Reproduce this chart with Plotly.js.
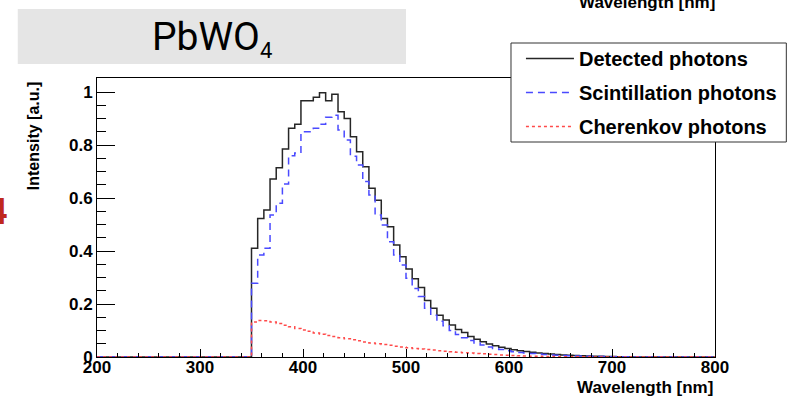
<!DOCTYPE html>
<html>
<head>
<meta charset="utf-8">
<script src="https://cdn.plot.ly/plotly-3.0.1.min.js"></script>
<style>html,body{margin:0;padding:0;background:#fff;}#chart{width:794px;height:397px;}</style>
</head>
<body>
<div id="chart"></div>
<script>
// Bin left edges (nm), 6 nm bins
const wavelength = [350,356,362,368,374,380,386,392,398,404,410,416,422,428,434,440,446,452,458,464,
  470,476,482,488,494,500,506,512,518,524,530,536,542,548,554,560,566,572,578,584,
  590,596,602,608,614,620,626,632,638,644,650,656,662,668,674,680,686,692,698,704,710];
const detected = [0.41,0.523,0.555,0.672,0.714,0.785,0.863,0.878,0.967,0.967,0.98,0.997,0.967,0.992,0.926,0.90,0.831,0.775,0.718,0.637,
  0.592,0.523,0.492,0.423,0.378,0.332,0.295,0.262,0.213,0.184,0.158,0.14,0.121,0.104,0.092,0.077,0.067,0.058,0.049,0.042,
  0.037,0.032,0.027,0.024,0.021,0.018,0.015,0.013,0.011,0.009,0.008,0.007,0.006,0.005,0.004,0.003,0.003,0.002,0.002,0.001,0.001];
const scintillation = [0.278,0.385,0.41,0.536,0.58,0.653,0.76,0.77,0.85,0.85,0.863,0.878,0.905,0.912,0.857,0.819,0.758,0.725,0.662,0.611,
  0.536,0.498,0.435,0.385,0.347,0.297,0.259,0.228,0.184,0.158,0.135,0.118,0.10,0.085,0.073,0.062,0.053,0.045,0.038,0.032,
  0.028,0.024,0.02,0.017,0.015,0.013,0.011,0.009,0.008,0.007,0.006,0.005,0.004,0.004,0.003,0.003,0.002,0.002,0.001,0.001,0.001];
const cherenkov = [0.132,0.138,0.137,0.132,0.126,0.12,0.114,0.108,0.102,0.097,0.091,0.086,0.081,0.077,0.073,0.069,0.065,0.061,0.057,0.053,
  0.05,0.047,0.044,0.041,0.038,0.035,0.032,0.03,0.028,0.026,0.024,0.022,0.02,0.018,0.016,0.015,0.013,0.012,0.01,0.009,
  0.008,0.007,0.006,0.005,0.004,0.003,0.003,0.002,0.002,0.001,0.001,0.001,0.001,0.001,0.001,0.0,0.0,0.0,0.0,0.0,0.0];
const seriesNames = ['Detected photons','Scintillation photons','Cherenkov photons'];
const xMin = 200, xMax = 800, binWidth = 6;
const xTickVals = [200,300,400,500,600,700,800];
const yTickVals = [0,0.2,0.4,0.6,0.8,1];

// Histogram step path: zero outside the filled range
function histXY(vals){
  const x = [xMin], y = [0];
  wavelength.forEach((w,i)=>{ x.push(w); y.push(vals[i]); });
  const lastEdge = wavelength[wavelength.length-1] + binWidth;
  x.push(lastEdge); y.push(0);
  x.push(xMax); y.push(0);
  return {x, y};
}

const styles = [
  {color:'#262626', width:1.5, dash:'solid'},
  {color:'#4a4aff', width:1.5, dash:'7px,5px'},
  {color:'#ff4a4a', width:1.5, dash:'3px,3px'}
];
const data = [detected, scintillation, cherenkov].map((vals,i)=>{
  const xy = histXY(vals);
  return {x:xy.x, y:xy.y, type:'scatter', mode:'lines', name:seriesNames[i],
    line:{shape:'hv', color:styles[i].color, width:styles[i].width, dash:styles[i].dash},
    legendgroup:'g'+i, cliponaxis:false};
});

const boldFam = '"Liberation Sans", Arial, sans-serif';
const bold = {family:boldFam, size:17, color:'#000', weight:'bold'};
const layout = {
  width:794, height:397,
  margin:{l:97, r:73, t:78, b:40, pad:0},
  paper_bgcolor:'#fff', plot_bgcolor:'#fff',
  showlegend:true,
  xaxis:{range:[xMin,xMax], tickvals:xTickVals, ticktext:xTickVals.map(String),
    ticks:'inside', ticklen:8, tickwidth:1, tickcolor:'#000',
    minor:{ticks:'inside', ticklen:4, dtick:20, tick0:200, tickcolor:'#000', tickwidth:1, showgrid:false},
    showline:true, linecolor:'#000', linewidth:1, mirror:true,
    showgrid:false, zeroline:false, tickfont:bold, ticklabelstandoff:-5, fixedrange:true},
  yaxis:{range:[0,1.053], tickvals:yTickVals, ticktext:yTickVals.map(String),
    ticks:'inside', ticklen:18, tickwidth:1, tickcolor:'#000',
    minor:{ticks:'inside', ticklen:9, dtick:0.05, tick0:0, tickcolor:'#000', tickwidth:1, showgrid:false},
    showline:true, linecolor:'#000', linewidth:1, mirror:true,
    showgrid:false, zeroline:false, tickfont:bold, ticklabelstandoff:0, fixedrange:true},
  legend:{x:0.686, y:1.14, xanchor:'left', yanchor:'top',
    bgcolor:'rgba(0,0,0,0)', borderwidth:0,
    font:{family:boldFam, size:20, color:'#000', weight:'bold'},
    itemwidth:48, tracegroupgap:5, traceorder:'grouped'},
  shapes:[
    {type:'rect', xref:'paper', yref:'paper', x0:-0.1282, x1:0.5, y0:1.0502, y1:1.2473,
     fillcolor:'#e5e5e5', line:{width:0}, layer:'below'},
    {type:'rect', xref:'paper', yref:'paper', x0:0.6699, x1:1.1154, y0:0.7706, y1:1.1254,
     fillcolor:'#fff', line:{width:1, color:'#333'}, layer:'above'}
  ],
  annotations:[
    {xref:'paper', yref:'paper', x:0.1859, y:1.14, xanchor:'center', yanchor:'middle', showarrow:false,
     text:'PbWO<sub><span style="font-size:22px">4</span></sub>', font:{family:'Roboto, sans-serif', size:39, color:'#000'}},
    {xref:'paper', yref:'paper', x:1.0, y:-0.11, xanchor:'right', yanchor:'middle', showarrow:false,
     text:'Wavelength [nm]', font:bold},
    {xref:'paper', yref:'paper', x:-0.1026, y:0.79, xanchor:'center', yanchor:'middle', showarrow:false,
     textangle:-90, text:'Intensity [a.u.]', font:{family:boldFam, size:16, color:'#000', weight:'bold'}},
    {xref:'paper', yref:'paper', x:1.0032, y:1.272, xanchor:'right', yanchor:'middle', showarrow:false,
     text:'Wavelength [nm]', font:bold},
    {xref:'paper', yref:'paper', x:-0.141, y:0.52, xanchor:'right', yanchor:'middle', showarrow:false,
     text:'4', font:{family:'Roboto, sans-serif', size:36, color:'#c0281e', weight:'bold'}}
  ]
};
Plotly.newPlot('chart', data, layout, {displayModeBar:false, staticPlot:true});
</script>
</body>
</html>
